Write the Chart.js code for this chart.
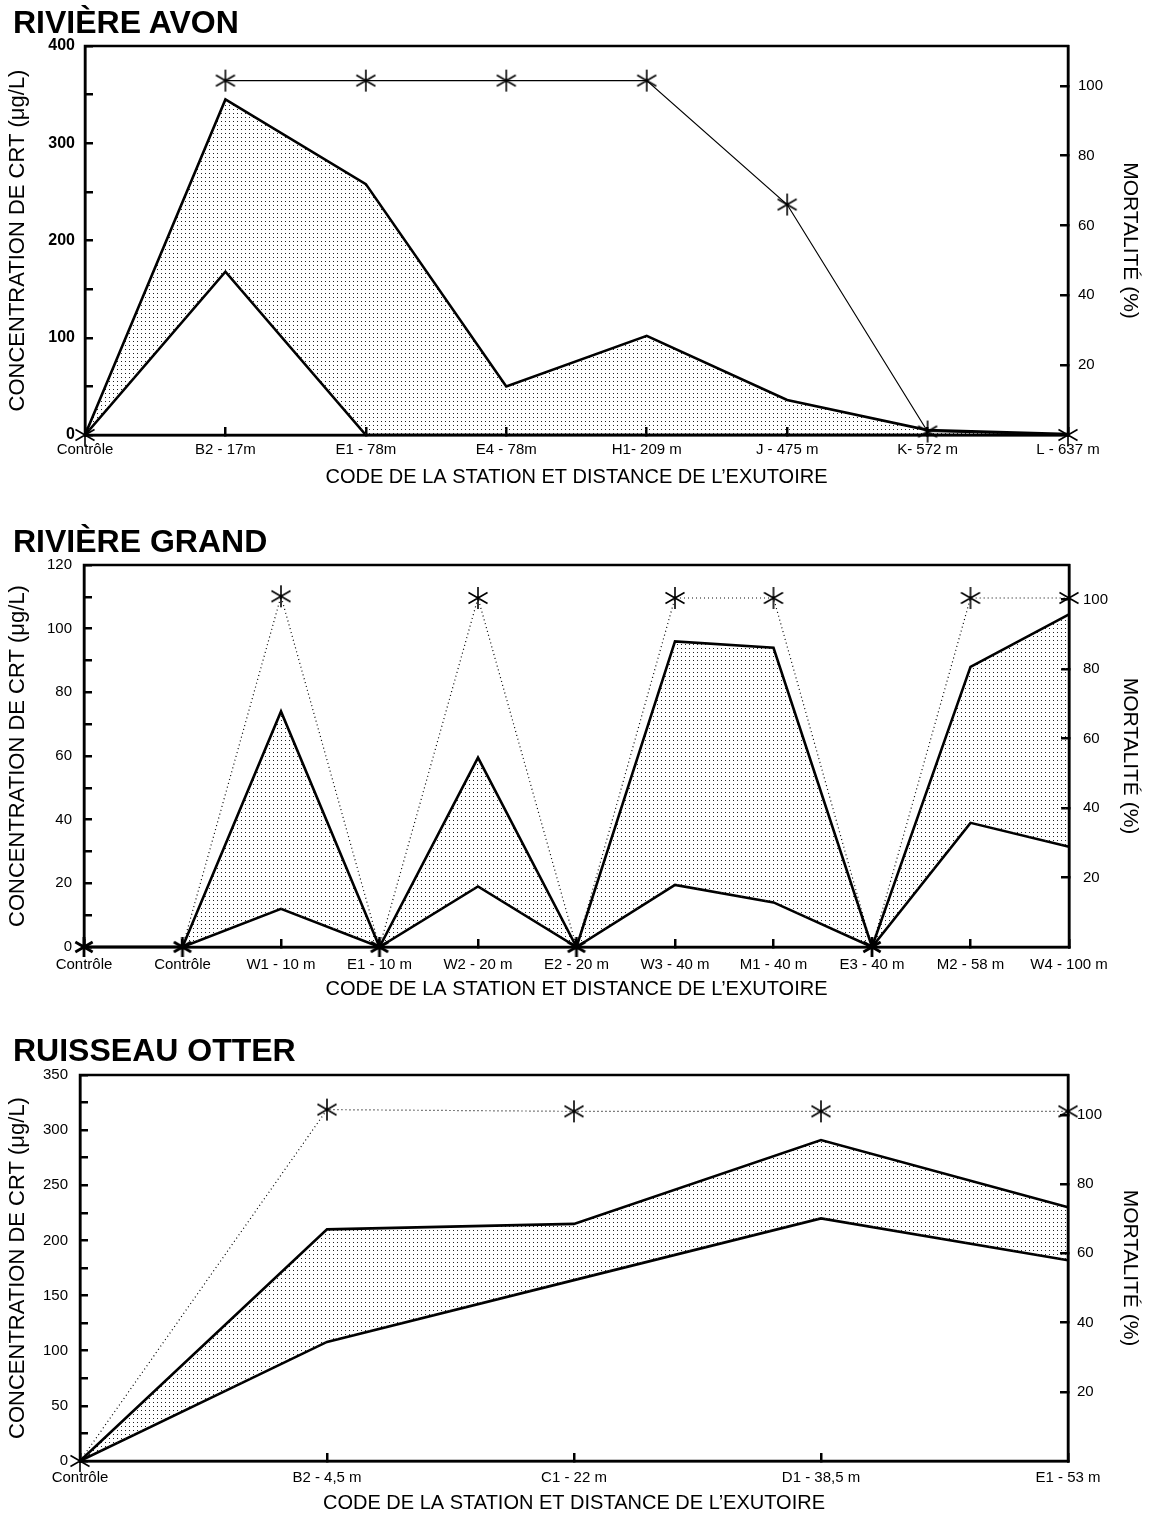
<!DOCTYPE html>
<html>
<head>
<meta charset="utf-8">
<script src="https://cdn.jsdelivr.net/npm/chart.js@4.4.1/dist/chart.umd.min.js"></script>
<style>
  html, body { margin: 0; padding: 0; background: #fff; overflow: hidden; }
  body { width: 1151px; height: 1514px; position: relative; }
  canvas { position: absolute; left: 0; }
  .ttl { position: absolute; left: 13px; font: bold 32px "Liberation Sans", Arial, Helvetica, sans-serif; line-height: 32px; color: #000; white-space: nowrap; }
</style>
</head>
<body>
<canvas id="avon" width="1151" height="500" style="top:0px"></canvas>
<canvas id="grand" width="1151" height="493" style="top:519px"></canvas>
<canvas id="otter" width="1151" height="497" style="top:1029px"></canvas>
<div class="ttl" style="top:6px">RIVIÈRE AVON</div>
<div class="ttl" style="top:525px">RIVIÈRE GRAND</div>
<div class="ttl" style="top:1034px">RUISSEAU OTTER</div>
<script>
// ===================== data =====================
const avonStations = ["Contrôle","B2 - 17m","E1 - 78m","E4 - 78m","H1- 209 m","J - 475 m","K- 572 m","L - 637 m"]
const avonMax = [0, 345, 258, 50, 102, 36, 5, 1]
const avonMin = [0, 168, 0, 0, 0, 0, 0, 0]
const avonMortality = [0, 101.5, 101.5, 101.5, 101.5, 66, 1, 0]

const grandStations = ["Contrôle","Contrôle","W1 - 10 m","E1 - 10 m","W2 - 20 m","E2 - 20 m","W3 - 40 m","M1 - 40 m","E3 - 40 m","M2 - 58 m","W4 - 100 m"]
const grandMax = [0, 0, 74, 0, 59.5, 0, 96, 94, 0, 88, 104.5]
const grandMin = [0, 0, 12, 0, 19, 0, 19.5, 14, 0, 39, 31.5]
const grandMortality = [0, 0, 101, 0, 100.5, 0, 100.5, 100.5, 0, 100.5, 100.5]

const otterStations = ["Contrôle","B2 - 4,5 m","C1 - 22 m","D1 - 38,5 m","E1 - 53 m"]
const otterMax = [0, 210, 215, 291, 230]
const otterMin = [0, 108, 164, 220, 182]
const otterMortality = [0, 101.5, 101, 101, 101]

const mortalityTicks = [20, 40, 60, 80, 100]

const FONT = "'Liberation Sans', Arial, Helvetica, sans-serif"
Chart.defaults.font.family = FONT
Chart.defaults.color = "#000"

// ===================== marks =====================
function makeStar(size, lw) {
  const c = document.createElement("canvas")
  c.width = size; c.height = size
  const g = c.getContext("2d")
  g.strokeStyle = "#000"
  g.lineWidth = lw
  const r = size / 2 - 1, m = size / 2
  g.beginPath()
  ;[90, 30, 150].forEach(a => {
    const t = a * Math.PI / 180
    g.moveTo(m - r * Math.cos(t), m - r * Math.sin(t))
    g.lineTo(m + r * Math.cos(t), m + r * Math.sin(t))
  })
  g.stroke()
  return c
}
const star = makeStar(24, 1.6)
const starBold = makeStar(22, 2.8)

const tile = document.createElement("canvas")
tile.width = 4; tile.height = 4
const tg = tile.getContext("2d")
tg.fillStyle = "#222"
tg.fillRect(1, 1, 1, 1)
const dots = ctx => ctx.chart.ctx.createPattern(tile, "repeat")

// frame round the plot
const frame = {
  id: "frame",
  afterDatasetsDraw(chart) {
    const a = chart.chartArea, g = chart.ctx
    g.save()
    g.strokeStyle = "#000"
    g.lineWidth = 2.5
    g.strokeRect(a.left, a.top, a.right - a.left, a.bottom - a.top)
    g.restore()
  }
}

function makeChart(id, o) {
  const tickGrid = { display: true, drawOnChartArea: false, drawTicks: true, tickLength: -8, color: "#000", lineWidth: 2.5 }
  return new Chart(document.getElementById(id), {
    type: "line",
    data: {
      labels: o.labels,
      datasets: [
        {
          label: "Mortalité",
          data: o.mortality,
          yAxisID: "yR",
          borderColor: "#000",
          borderWidth: 1.2,
          borderDash: o.dashed ? [1, 3] : [],
          pointStyle: o.pointStyle || star,
          pointRadius: 12,
          fill: false,
          clip: false,
          tension: 0,
          segment: o.segment || {},
          order: 0
        },
        {
          label: "Max",
          data: o.max,
          yAxisID: "y",
          borderColor: "#000",
          borderWidth: 2.6,
          pointRadius: 0,
          backgroundColor: dots,
          fill: "+1",
          tension: 0,
          order: 1
        },
        {
          label: "Min",
          data: o.min,
          yAxisID: "y",
          borderColor: "#000",
          borderWidth: 2.6,
          pointRadius: 0,
          fill: false,
          tension: 0,
          order: 2
        }
      ]
    },
    options: {
      responsive: false,
      animation: false,
      devicePixelRatio: 1,
      layout: { padding: { top: 46, bottom: 5, left: 0, right: 0 } },
      plugins: { legend: { display: false }, tooltip: { enabled: false } },
      scales: {
        x: {
          type: "category",
          offset: false,
          grid: tickGrid,
          border: { display: true, color: "#000", width: 2.5 },
          ticks: { font: { size: 15 }, padding: o.xPad, maxRotation: 0, autoSkip: false, color: "#000" },
          title: { display: true, text: "CODE DE LA STATION ET DISTANCE DE L’EXUTOIRE", font: { size: 20 }, color: "#000", padding: { top: 6, bottom: 6 } },
          afterFit: s => { s.height = 60 }
        },
        y: {
          position: "left",
          min: 0,
          max: o.yMax,
          grid: tickGrid,
          border: { display: true, color: "#000", width: 2.5 },
          ticks: {
            stepSize: o.yMinor,
            font: { size: o.boldY ? 16 : 15, weight: o.boldY ? "bold" : "normal" },
            padding: 18 - o.yLabelGap,
            color: "#000",
            callback: v => (v % o.yMajor === 0 ? v : "")
          },
          title: { display: true, text: "CONCENTRATION DE CRT (μg/L)", font: { size: 22 }, color: "#000", padding: { top: 5, bottom: 5 } },
          afterFit: s => { s.width = o.leftW }
        },
        yR: {
          position: "right",
          min: 0,
          max: o.rMax,
          grid: tickGrid,
          border: { display: true, color: "#000", width: 2.5 },
          ticks: { stepSize: 20, font: { size: 15 }, padding: o.rPad, color: "#000" },
          afterBuildTicks: s => { s.ticks = s.ticks.filter(t => mortalityTicks.includes(t.value)) },
          title: { display: true, text: "MORTALITÉ (%)", font: { size: 21 }, color: "#000", padding: { top: 9, bottom: 9 } },
          afterFit: s => { s.width = 1151 - o.right }
        }
      }
    },
    plugins: [frame]
  })
}

// ===================== Rivière Avon =====================
const avonChart = makeChart("avon", {
  labels: avonStations, max: avonMax, min: avonMin, mortality: avonMortality,
  yMax: 400, yMinor: 50, yMajor: 100, boldY: true, yLabelGap: 0, xPad: 14,
  rMax: 111.4, rPad: 18, leftW: 85, right: 1068,
  segment: { borderColor: c => (c.p0DataIndex === 0 ? "rgba(0,0,0,0)" : undefined) }
})

// ===================== Rivière Grand =====================
const grandChart = makeChart("grand", {
  labels: grandStations, max: grandMax, min: grandMin, mortality: grandMortality,
  yMax: 120, yMinor: 10, yMajor: 20, boldY: false, yLabelGap: -2, xPad: 17,
  rMax: 110, rPad: 22, leftW: 84, right: 1069, dashed: true,
  pointStyle: c => (c.raw === 0 ? starBold : star)
})

// ===================== Ruisseau Otter =====================
const otterChart = makeChart("otter", {
  labels: otterStations, max: otterMax, min: otterMin, mortality: otterMortality,
  yMax: 350, yMinor: 25, yMajor: 50, boldY: false, yLabelGap: -2, xPad: 16,
  rMax: 111.5, rPad: 17, leftW: 80, right: 1068, dashed: true
})
</script>
</body>
</html>
